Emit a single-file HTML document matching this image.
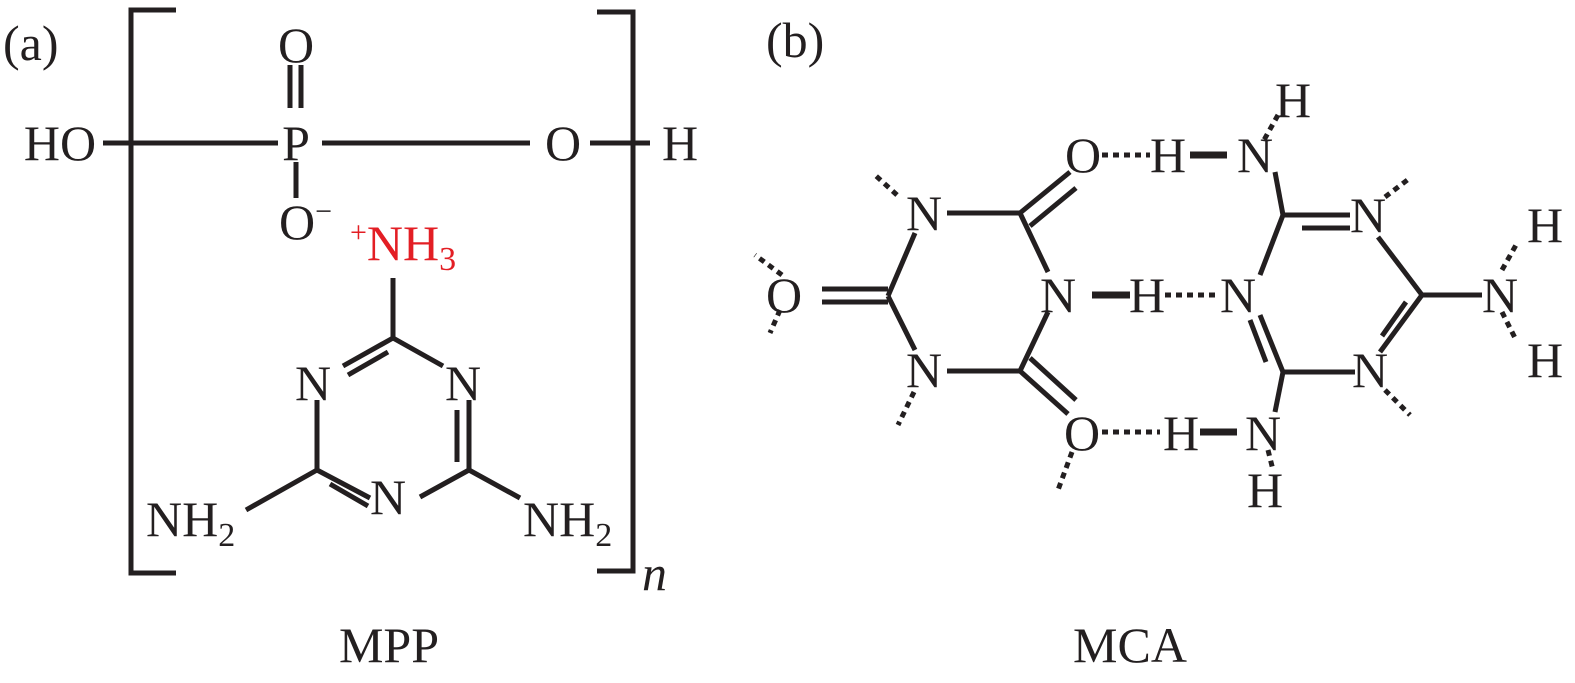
<!DOCTYPE html>
<html><head><meta charset="utf-8"><style>
html,body{margin:0;padding:0;background:#fff;}
svg{display:block;}
text{font-family:"Liberation Serif",serif;font-size:50px;fill:#231f20;}
</style></head><body>
<svg width="1575" height="683" viewBox="0 0 1575 683" xmlns="http://www.w3.org/2000/svg">
<g stroke="#231f20" stroke-width="5" fill="none" stroke-linecap="butt">
<polyline points="176,10 131,10 131,573 176,573"/>
<polyline points="597,12 633,12 633,571 597,571"/>
<line x1="103" y1="143" x2="278" y2="143"/>
<line x1="322" y1="143" x2="530" y2="143"/>
<line x1="590" y1="143" x2="650" y2="143"/>
<line x1="290" y1="65" x2="290" y2="108"/>
<line x1="301" y1="65" x2="301" y2="108"/>
<line x1="296" y1="162" x2="296" y2="198"/>
<line x1="393" y1="278" x2="393" y2="338"/>
<line x1="393" y1="338" x2="343" y2="366"/>
<line x1="388" y1="352" x2="348" y2="375"/>
<line x1="393" y1="338" x2="443" y2="366"/>
<line x1="317" y1="400" x2="317" y2="470"/>
<line x1="469" y1="400" x2="469" y2="470"/>
<line x1="457" y1="410" x2="457" y2="462"/>
<line x1="317" y1="470" x2="246" y2="510"/>
<line x1="317" y1="470" x2="370" y2="498"/>
<line x1="330" y1="484" x2="368" y2="506"/>
<line x1="469" y1="470" x2="420" y2="497"/>
<line x1="469" y1="470" x2="520" y2="498"/>
<line x1="947" y1="213" x2="1020" y2="213"/>
<line x1="1020" y1="213" x2="1048" y2="272"/>
<line x1="1020" y1="213" x2="1070" y2="172"/>
<line x1="1030" y1="226" x2="1076" y2="188"/>
<line x1="915" y1="233" x2="888" y2="296"/>
<line x1="888" y1="296" x2="915" y2="350"/>
<line x1="888" y1="289" x2="822" y2="289"/>
<line x1="888" y1="302" x2="822" y2="302"/>
<line x1="1048" y1="312" x2="1020" y2="371"/>
<line x1="947" y1="371" x2="1020" y2="371"/>
<line x1="1020" y1="371" x2="1068" y2="414"/>
<line x1="1030" y1="358" x2="1076" y2="400"/>
<line x1="1190" y1="155" x2="1227" y2="155" stroke-width="7"/>
<line x1="1092" y1="295" x2="1130" y2="295" stroke-width="7"/>
<line x1="1200" y1="432" x2="1237" y2="432" stroke-width="7"/>
<g stroke-dasharray="6,5" stroke-width="5">
<line x1="1102" y1="155" x2="1150" y2="155"/>
<line x1="1165" y1="295" x2="1215" y2="295"/>
<line x1="1102" y1="432" x2="1160" y2="432"/>
<line x1="1278" y1="115" x2="1264" y2="140"/>
<line x1="897" y1="195" x2="875" y2="175"/>
<line x1="914" y1="392" x2="898" y2="425"/>
<line x1="782" y1="275" x2="755" y2="255"/>
<line x1="780" y1="310" x2="770" y2="333"/>
<line x1="1072" y1="452" x2="1058" y2="490"/>
<line x1="1385" y1="197" x2="1410" y2="178"/>
<line x1="1385" y1="390" x2="1410" y2="415"/>
<line x1="1268" y1="450" x2="1273" y2="470"/>
<line x1="1502" y1="270" x2="1516" y2="245"/>
<line x1="1502" y1="312" x2="1516" y2="340"/>
</g>
<line x1="1275" y1="172" x2="1283" y2="215"/>
<line x1="1283" y1="215" x2="1350" y2="215"/>
<line x1="1302" y1="228" x2="1350" y2="228"/>
<line x1="1283" y1="215" x2="1260" y2="275"/>
<line x1="1378" y1="237" x2="1422" y2="295"/>
<line x1="1422" y1="295" x2="1482" y2="295"/>
<line x1="1422" y1="295" x2="1380" y2="352"/>
<line x1="1406" y1="302" x2="1382" y2="336"/>
<line x1="1260" y1="315" x2="1283" y2="372"/>
<line x1="1250" y1="320" x2="1266" y2="362"/>
<line x1="1283" y1="372" x2="1355" y2="372"/>
<line x1="1283" y1="372" x2="1275" y2="412"/>
</g>
<text x="3" y="60">(a)</text>
<text x="60" y="160" text-anchor="middle">HO</text>
<text x="296" y="62" text-anchor="middle">O</text>
<text x="296" y="160" text-anchor="middle">P</text>
<text x="563" y="160" text-anchor="middle">O</text>
<text x="680" y="160" text-anchor="middle">H</text>
<text x="279" y="239">O<tspan dy="-18" font-size="30">−</tspan></text>
<text x="350" y="260" style="fill:#e31e24"><tspan font-size="30" dy="-18">+</tspan><tspan dy="18">NH</tspan><tspan font-size="34" dy="10">3</tspan></text>
<text x="313" y="400" text-anchor="middle">N</text>
<text x="463" y="400" text-anchor="middle">N</text>
<text x="388" y="514" text-anchor="middle">N</text>
<text x="146" y="536">NH<tspan font-size="34" dy="10">2</tspan></text>
<text x="523" y="536">NH<tspan font-size="34" dy="10">2</tspan></text>
<text x="642" y="590" font-style="italic">n</text>
<text x="389" y="662" text-anchor="middle" font-size="54">MPP</text>
<text x="766" y="57">(b)</text>
<text x="1083" y="172" text-anchor="middle">O</text>
<text x="1168" y="172" text-anchor="middle">H</text>
<text x="1255" y="172" text-anchor="middle">N</text>
<text x="1293" y="117" text-anchor="middle">H</text>
<text x="924" y="230" text-anchor="middle">N</text>
<text x="784" y="312" text-anchor="middle">O</text>
<text x="1058" y="312" text-anchor="middle">N</text>
<text x="1147" y="312" text-anchor="middle">H</text>
<text x="1238" y="312" text-anchor="middle">N</text>
<text x="924" y="387" text-anchor="middle">N</text>
<text x="1368" y="232" text-anchor="middle">N</text>
<text x="1370" y="387" text-anchor="middle">N</text>
<text x="1500" y="312" text-anchor="middle">N</text>
<text x="1545" y="242" text-anchor="middle">H</text>
<text x="1545" y="377" text-anchor="middle">H</text>
<text x="1082" y="450" text-anchor="middle">O</text>
<text x="1181" y="450" text-anchor="middle">H</text>
<text x="1263" y="450" text-anchor="middle">N</text>
<text x="1265" y="507" text-anchor="middle">H</text>
<text x="1130" y="662" text-anchor="middle" font-size="54">MCA</text>
</svg>
</body></html>
